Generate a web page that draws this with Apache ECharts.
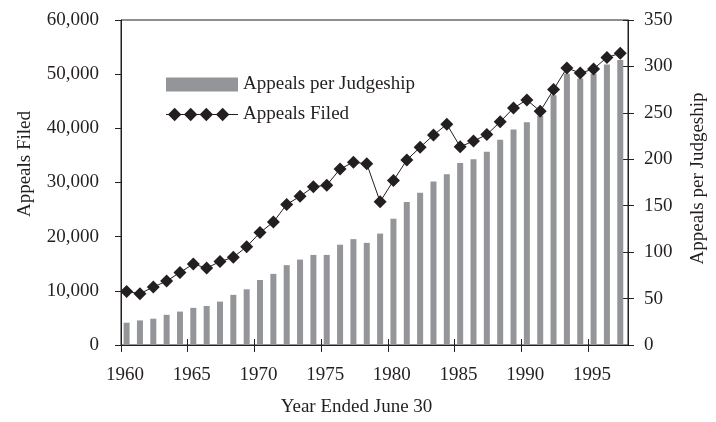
<!DOCTYPE html>
<html>
<head>
<meta charset="utf-8">
<script src="https://cdn.jsdelivr.net/npm/echarts@6/dist/echarts.min.js"></script>
<style>
html,body{margin:0;padding:0;background:#fff;}
#chart{width:716px;height:422px;}
</style>
</head>
<body>
<div id="chart"></div>
<script>
const years = [1960,1961,1962,1963,1964,1965,1966,1967,1968,1969,1970,1971,1972,1973,1974,1975,1976,1977,1978,1979,1980,1981,1982,1983,1984,1985,1986,1987,1988,1989,1990,1991,1992,1993,1994,1995,1996,1997];
const appealsPerJudgeship = [24,26.5,28.3,32.5,36,40,42,46.7,54,60,70,76.6,86,92,97,97,108,114,110,120,136,154,164,176,184,196,200,208,221,232,240,247,269,292,287,292,302,307];
const appealsFiled = [9900,9480,10700,11800,13400,14950,14200,15400,16200,18150,20750,22700,25950,27450,29200,29500,32500,33750,33450,26450,30350,34150,36500,38750,40750,36600,37650,38850,41200,43750,45250,43150,47150,51150,50200,50950,53100,53850];
const xTickYears = [1960,1965,1970,1975,1980,1985,1990,1995];
const leftTicks = [0,10000,20000,30000,40000,50000,60000];
const rightTicks = [0,50,100,150,200,250,300,350];

const ink = '#231f20';
const barGray = '#939598';
const font = '"Liberation Serif", "Times New Roman", serif';
const xShift = 0.42; // fiscal-year position within the year

const barData = years.map((y, i) => [y + xShift, appealsPerJudgeship[i]]);
const lineData = years.map((y, i) => [y + xShift, appealsFiled[i]]);

const lineIcon = 'path://M0 6.5H75V7.5H0Z' +
  'M2 7L9 0L16 7L9 14Z' +
  'M18.7 7L25.7 0L32.7 7L25.7 14Z' +
  'M35 7L42 0L49 7L42 14Z' +
  'M52 7L59 0L66 7L59 14Z';

const chart = echarts.init(document.getElementById('chart'), null, {renderer: 'canvas'});
chart.setOption({
  animation: false,
  backgroundColor: '#fff',
  textStyle: {fontFamily: font, color: ink},
  grid: {left: 121, right: 81, top: 20, bottom: 74, show: true, borderColor: ink, borderWidth: 1, backgroundColor: 'transparent'},
  legend: {
    orient: 'vertical',
    left: 161,
    top: 70,
    itemWidth: 72,
    itemHeight: 14,
    itemGap: 11,
    textStyle: {fontFamily: font, fontSize: 19, color: ink},
    data: [
      {name: 'Appeals per Judgeship', icon: 'rect'},
      {name: 'Appeals Filed', icon: lineIcon}
    ]
  },
  xAxis: [{
    type: 'value',
    min: 1960,
    max: 1998,
    interval: 5,
    name: 'Year Ended June 30',
    nameLocation: 'middle',
    nameGap: 53,
    nameTextStyle: {fontFamily: font, fontSize: 19, color: ink, padding: [0, 36, 0, 0]},
    axisLine: {show: true, onZero: false, lineStyle: {color: ink, width: 1}},
    axisTick: {show: true, inside: false, length: 7, lineStyle: {color: ink}, customValues: xTickYears},
    axisLabel: {show: true, margin: 21, padding: [0, 0, 0, 8], fontFamily: font, fontSize: 19, color: ink, customValues: xTickYears, formatter: v => String(v)},
    splitLine: {show: false}
  }, {
    type: 'value',
    min: 1960,
    max: 1998,
    interval: 5,
    position: 'bottom',
    axisLine: {show: false},
    axisTick: {show: true, inside: true, length: 6, lineStyle: {color: ink}, customValues: xTickYears},
    axisLabel: {show: false},
    splitLine: {show: false}
  }],
  yAxis: [{
    type: 'value',
    position: 'left',
    min: 0,
    max: 60000,
    interval: 10000,
    name: 'Appeals Filed',
    nameLocation: 'middle',
    nameRotate: 90,
    nameGap: 86,
    nameTextStyle: {fontFamily: font, fontSize: 19, color: ink, padding: [0, 0, 0, 37]},
    axisLine: {show: true, lineStyle: {color: ink, width: 1}},
    axisTick: {show: true, inside: false, length: 6, lineStyle: {color: ink}, customValues: leftTicks},
    axisLabel: {margin: 22, fontFamily: font, fontSize: 19, color: ink, customValues: leftTicks, formatter: v => v.toLocaleString('en-US')},
    splitLine: {show: false}
  }, {
    type: 'value',
    position: 'right',
    min: 0,
    max: 350,
    interval: 50,
    name: 'Appeals per Judgeship',
    nameLocation: 'middle',
    nameRotate: 90,
    nameGap: 61,
    nameTextStyle: {fontFamily: font, fontSize: 19, color: ink, padding: [0, 0, 0, 8]},
    axisLine: {show: true, lineStyle: {color: ink, width: 1}},
    axisTick: {show: true, inside: false, length: 6, lineStyle: {color: ink}, customValues: rightTicks},
    axisLabel: {margin: 16, fontFamily: font, fontSize: 19, color: ink, customValues: rightTicks},
    splitLine: {show: false}
  }, {
    type: 'value',
    position: 'right',
    min: 0,
    max: 350,
    interval: 50,
    axisLine: {show: false},
    axisTick: {show: true, inside: true, length: 5, lineStyle: {color: ink}, customValues: rightTicks},
    axisLabel: {show: false},
    splitLine: {show: false}
  }],
  series: [{
    name: 'Appeals per Judgeship',
    type: 'bar',
    xAxisIndex: 0,
    yAxisIndex: 1,
    barWidth: 6,
    itemStyle: {color: barGray},
    data: barData,
    z: 2
  }, {
    name: 'Appeals Filed',
    type: 'line',
    xAxisIndex: 0,
    yAxisIndex: 0,
    symbol: 'diamond',
    symbolSize: 13,
    lineStyle: {color: ink, width: 1},
    itemStyle: {color: ink},
    data: lineData,
    z: 3
  }]
});
</script>
</body>
</html>
